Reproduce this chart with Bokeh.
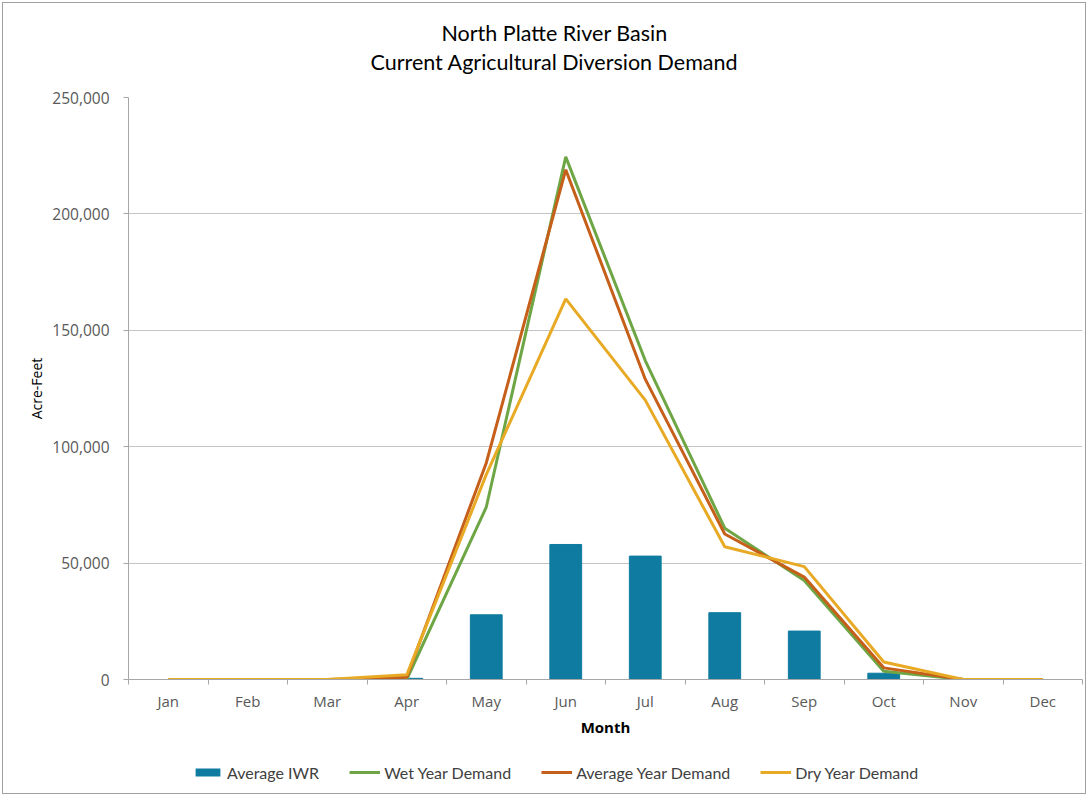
from bokeh.plotting import figure
from bokeh.layouts import column
from bokeh.models import (FixedTicker, NumeralTickFormatter, Range1d, Title,
                          Legend, LegendItem)
from bokeh.embed import file_html
from bokeh.resources import INLINE

months = ["Jan", "Feb", "Mar", "Apr", "May", "Jun", "Jul", "Aug", "Sep", "Oct", "Nov", "Dec"]
avg_iwr = [0, 0, 0, 500, 27800, 58000, 53000, 28700, 20800, 2700, 0, 0]
wet_demand = [0, 0, 0, 0, 74000, 224500, 137000, 65000, 42500, 3500, 0, 0]
avg_demand = [0, 0, 0, 1000, 93000, 219000, 129000, 62500, 44000, 5000, 0, 0]
dry_demand = [0, 0, 0, 2000, 88000, 163500, 120000, 57000, 48500, 7500, 0, 0]
y_ticks = [0, 50000, 100000, 150000, 200000, 250000]
series_names = ["Average IWR", "Wet Year Demand", "Average Year Demand", "Dry Year Demand"]

xc = [i + 0.5 for i in range(len(months))]
bounds = [i for i in range(len(months) + 1)]

C_BAR, C_WET, C_AVG, C_DRY = "#0F7BA1", "#6EA646", "#C55F1A", "#E8AA24"
TITLEF = "Lato"
TICKF = "Open Sans"

p = figure(width=1082, height=747, output_backend="svg", toolbar_location=None,
           x_range=Range1d(0, len(months)), y_range=Range1d(0, 250000),
           min_border_left=125, min_border_right=3, min_border_top=94,
           min_border_bottom=71, title_location=None)
p.outline_line_color = None
p.background_fill_color = "white"
p.border_fill_color = "white"

# grid
p.xgrid.grid_line_color = None
p.ygrid.grid_line_color = "#c4c4c4"
p.ygrid.grid_line_width = 1
p.ygrid.ticker = FixedTicker(ticks=y_ticks[1:])

# x axis
xa = p.xaxis[0]
xa.ticker = FixedTicker(ticks=xc, minor_ticks=bounds)
xa.major_label_overrides = {x: m for x, m in zip(xc, months)}
xa.major_tick_line_color = None
xa.major_tick_out = 0
xa.major_tick_in = 0
xa.minor_tick_out = 5
xa.minor_tick_in = 0
xa.minor_tick_line_color = "#a6a6a6"
xa.axis_line_color = "#a6a6a6"
xa.major_label_text_font = TICKF
xa.major_label_text_font_size = "15px"
xa.major_label_text_color = "#595959"
xa.major_label_standoff = 6
xa.axis_label = "Month"
xa.axis_label_text_font = TICKF
xa.axis_label_text_font_size = "15px"
xa.axis_label_text_font_style = "bold"
xa.axis_label_text_color = "#000000"
xa.axis_label_standoff = 3

# y axis
ya = p.yaxis[0]
ya.ticker = FixedTicker(ticks=y_ticks)
ya.formatter = NumeralTickFormatter(format="0,0")
ya.major_tick_out = 5
ya.major_tick_in = 0
ya.minor_tick_line_color = None
ya.major_tick_line_color = "#a6a6a6"
ya.axis_line_color = "#a6a6a6"
ya.major_label_text_font = TICKF
ya.major_label_text_font_size = "15.5px"
ya.major_label_text_color = "#595959"
ya.major_label_standoff = 14
ya.axis_label = "Acre-Feet"
ya.axis_label_text_font = TICKF
ya.axis_label_text_font_size = "14px"
ya.axis_label_text_font_style = "normal"
ya.axis_label_text_color = "#000000"
ya.axis_label_standoff = 3

# glyphs
p.vbar(x=xc, top=avg_iwr, width=0.4, bottom=0, fill_color=C_BAR, line_color=C_BAR)
p.line(xc, wet_demand, line_color=C_WET, line_width=3)
p.line(xc, avg_demand, line_color=C_AVG, line_width=3)
p.line(xc, dry_demand, line_color=C_DRY, line_width=3)

# titles: spacer (nearest frame), line 2, line 1
p.add_layout(Title(text=" ", text_font_size="10px", standoff=9,
                   vertical_align="middle"), "above")
p.add_layout(Title(text="Current Agricultural Diversion Demand", align="left",
                   offset=242, standoff=0, vertical_align="middle",
                   text_font=TITLEF, text_font_size="21.5px",
                   text_font_style="normal", text_color="#000000"), "above")
p.add_layout(Title(text="North Platte River Basin", align="left",
                   offset=313, standoff=1, vertical_align="middle",
                   text_font=TITLEF, text_font_size="21.5px",
                   text_font_style="normal", text_color="#000000"), "above")

# legend strip (its renderers hold the series but draw nothing in view)
q = figure(width=1082, height=43, output_backend="svg", toolbar_location=None,
           x_range=Range1d(0, len(months)), y_range=Range1d(-500000, -250000),
           x_axis_location=None, y_axis_location=None,
           min_border=0, title_location=None)
q.grid.visible = False
q.outline_line_color = None
q.border_fill_color = "white"
q.background_fill_color = "white"
r_bar = q.vbar(x=xc, top=avg_iwr, width=0, bottom=0, fill_color=C_BAR, line_color=None)
r_wet = q.line(xc, wet_demand, line_color=C_WET, line_width=3)
r_avg = q.line(xc, avg_demand, line_color=C_AVG, line_width=3)
r_dry = q.line(xc, dry_demand, line_color=C_DRY, line_width=3)
legend = Legend(items=[LegendItem(label=n, renderers=[r])
                       for n, r in zip(series_names, [r_bar, r_wet, r_avg, r_dry])],
                orientation="horizontal", location=(64, 11),
                border_line_color=None, background_fill_alpha=0,
                padding=0, margin=0, spacing=30, label_standoff=4,
                glyph_width=31, glyph_height=10, label_height=20,
                label_text_font=TITLEF, label_text_font_size="16px",
                label_text_color="#404040")
q.add_layout(legend, "center")

layout = column(p, q, spacing=0,
                styles={"border": "1px solid #a0a0a0", "margin": "2px"})
open("out.html", "w").write(file_html(layout, INLINE))
